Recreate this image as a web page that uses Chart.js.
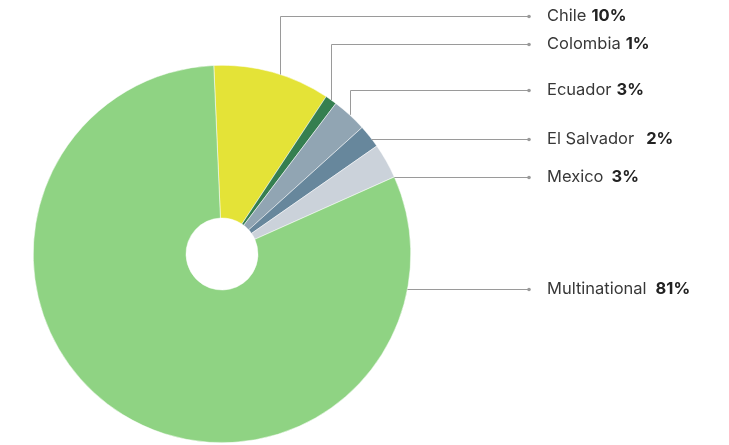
<!DOCTYPE html>
<html>
<head>
<meta charset="utf-8">
<script src="https://cdn.jsdelivr.net/npm/chart.js@4"></script>
<style>
  html, body { margin: 0; padding: 0; background: #ffffff; }
  #wrap { width: 729px; height: 445px; position: relative; }
</style>
</head>
<body>
<div id="wrap"><canvas id="pie-chart"></canvas></div>
<script>
// chart data
const countries = ['Chile', 'Colombia', 'Ecuador', 'El Salvador', 'Mexico', 'Multinational'];
const shares = [10, 1, 3, 2, 3, 81];
const shareLabels = ['10%', '1%', '3%', '2%', '3%', '81%'];
const sliceColors = ['#e4e337', '#357f50', '#91a5b3', '#67879c', '#cbd2da', '#8fd383'];

// label placement
const labelY = [16, 44, 90, 139, 177, 289];
const labelGap = [5, 5, 5, 12, 8, 9];          // px between name and share
const verticalLeader = [true, true, true, false, false, false];
const leaderAt = [0.57, 0.5, 0.5, 0.5, 0.5, 0.5]; // where along the slice a vertical leader starts

const leaderPlugin = {
    id: 'leaders',
    afterDatasetsDraw(chart) {
        const ctx = chart.ctx;
        const meta = chart.getDatasetMeta(0);
        const dotX = 529;
        const textX = 547;

        ctx.save();
        meta.data.forEach((arc, i) => {
            const p = arc.getProps(['x', 'y', 'startAngle', 'endAngle', 'outerRadius'], true);
            const r = p.outerRadius;
            const y = labelY[i];

            ctx.strokeStyle = '#9a9a9a';
            ctx.lineWidth = 1;
            ctx.beginPath();
            if (verticalLeader[i]) {
                const a = p.startAngle + (p.endAngle - p.startAngle) * leaderAt[i];
                const sx = Math.round(p.x + Math.cos(a) * r) + 0.5;
                const sy = p.y + Math.sin(a) * r;
                ctx.moveTo(sx, sy);
                ctx.lineTo(sx, y + 0.5);
                ctx.lineTo(dotX, y + 0.5);
            } else {
                const dy = y - p.y;
                const sx = p.x + Math.sqrt(Math.max(r * r - dy * dy, 0));
                ctx.moveTo(sx, y + 0.5);
                ctx.lineTo(dotX, y + 0.5);
            }
            ctx.stroke();

            ctx.fillStyle = '#9a9a9a';
            ctx.beginPath();
            ctx.arc(dotX, y + 0.5, 1.8, 0, Math.PI * 2);
            ctx.fill();

            // label text: name regular, share bold
            ctx.textBaseline = 'middle';
            ctx.fillStyle = '#383838';
            ctx.font = '16.5px Inter, "Noto Sans", sans-serif';
            ctx.fillText(countries[i], textX, y);
            const w = ctx.measureText(countries[i]).width;
            ctx.font = 'bold 16.5px Inter, "Noto Sans", sans-serif';
            ctx.fillStyle = '#222222';
            ctx.fillText(shareLabels[i], textX + w + labelGap[i], y);
        });
        ctx.restore();
    }
};

const ctx = document.getElementById('pie-chart').getContext('2d');
const pieChart = new Chart(ctx, {
    type: 'doughnut',
    data: {
        labels: countries,
        datasets: [{
            data: shares,
            backgroundColor: sliceColors,
            borderColor: '#ffffff',
            borderWidth: 0.5
        }]
    },
    options: {
        responsive: true,
        maintainAspectRatio: false,
        animation: false,
        rotation: -2.5,
        cutout: 36,
        layout: {
            padding: { left: 33, right: 318, top: 65, bottom: 2 }
        },
        plugins: {
            legend: { display: false },
            tooltip: { enabled: false }
        }
    },
    plugins: [leaderPlugin]
});
</script>
</body>
</html>
